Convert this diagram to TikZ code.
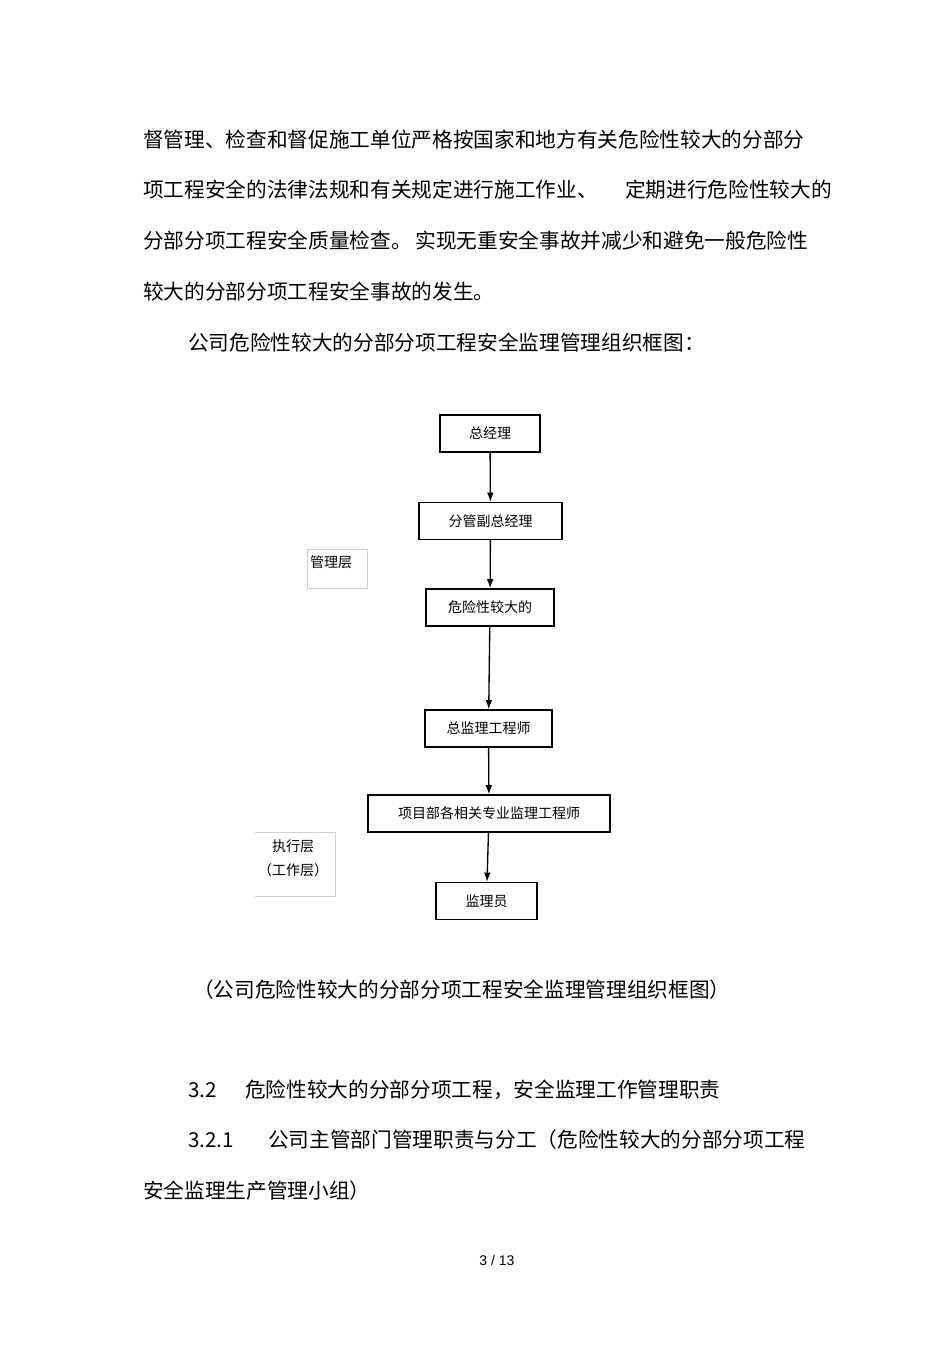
\documentclass[tikz,border=0pt]{standalone}
\usepackage{fontspec}
\setmainfont{Liberation Sans}
\newfontfamily\cjk{Noto Sans CJK SC}
\usetikzlibrary{arrows.meta}
\begin{document}
\begin{tikzpicture}[x=0.75pt,y=-0.75pt,
  box/.style={draw,line width=0.9pt,minimum height=27.75pt,inner sep=0pt,font=\cjk\fontsize{10.5}{12}\selectfont},
  sidebox/.style={draw=black!18,line width=0.6pt},
  sidetext/.style={inner sep=0pt,font=\cjk\fontsize{10.5}{18}\selectfont,align=center},
  para/.style={anchor=west,inner sep=0pt,font=\cjk\fontsize{15.5}{18}\selectfont},
  arr/.style={-{Latex[length=7pt,width=5pt]},line width=1pt}]
\useasboundingbox (0,0) rectangle (950,1345);
\node[para] (p1) at (143,140) {督管理、检查和督促施工单位严格按国家和地方有关危险性较大的分部分};
\node[para] (p2) at (143,190) {项工程安全的法律法规和有关规定进行施工作业、};
\node[para,anchor=east] (p2b) at (832,190) {定期进行危险性较大的};
\node[para] (p3) at (143,241) {分部分项工程安全质量检查。\,实现无重安全事故并减少和避免一般危险性};
\node[para] (p4) at (143,292) {较大的分部分项工程安全事故的发生。};
\node[para] (p5) at (188,343) {公司危险性较大的分部分项工程安全监理管理组织框图：};

\node[box,minimum width=75pt] (a) at (490,433.5) {总经理};
\node[box,minimum width=107.25pt] (b) at (490.5,521) {分管副总经理};
\node[box,minimum width=96pt] (c) at (490,607.5) {危险性较大的};
\node[box,minimum width=95.25pt] (d) at (488.5,728.5) {总监理工程师};
\node[box,minimum width=181.5pt] (e) at (489,813.5) {项目部各相关专业监理工程师};
\node[box,minimum width=75.75pt] (f) at (486.5,901) {监理员};
\draw[arr] (a) -- (b);
\draw[arr] (b) -- (c);
\draw[arr] (c) -- (d);
\draw[arr] (d) -- (e);
\draw[arr] (e) -- (f);

\draw[sidebox] (307,549) rectangle (367,588);
\node[sidetext] (s1) at (331,562) {管理层};
\draw[sidebox] (255,832) -- (335,832) -- (335,896) -- (255,896);
\node[sidetext] (s2) at (293,858) {执行层\\（工作层）};

\node[para] (cap) at (193,990) {（公司危险性较大的分部分项工程安全监理管理组织框图）};
\node[para] (h1) at (188,1090) {3.2};
\node[para] (h1t) at (245,1090) {危险性较大的分部分项工程，安全监理工作管理职责};
\node[para] (h2) at (188,1140) {3.2.1};
\node[para] (h2t) at (268,1140) {公司主管部门管理职责与分工（危险性较大的分部分项工程};
\node[para] (h3) at (143,1191) {安全监理生产管理小组）};
\node[inner sep=0pt,font=\fontsize{10.5}{12}\selectfont] (pg) at (497,1260) {3 / 13};
\end{tikzpicture}
\end{document}
